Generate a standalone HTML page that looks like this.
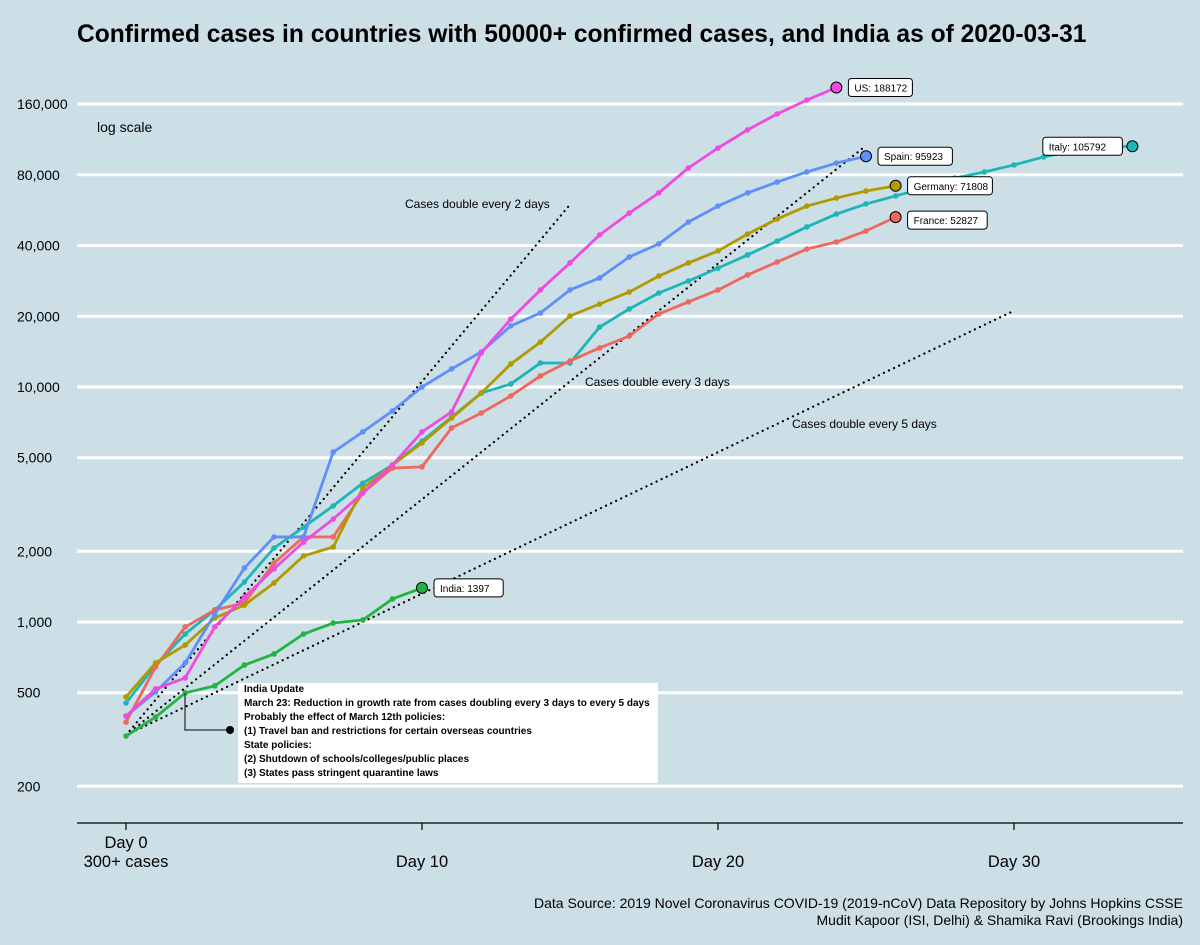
<!DOCTYPE html>
<html><head><meta charset="utf-8"><style>
body{margin:0;background:#cddfe6;}
svg{display:block;font-family:"Liberation Sans",Arial,sans-serif;}
</style></head><body>
<svg id="chart" width="1200" height="945" viewBox="0 0 1200 945">
<rect width="1200" height="945" fill="#cddfe6"/>
<text x="77" y="42" font-size="24.6" font-weight="bold" fill="#000">Confirmed cases in countries with 50000+ confirmed cases, and India as of 2020-03-31</text>
<text x="97" y="132" font-size="14" fill="#000">log scale</text>
<g id="grid"></g>
<g id="yticks"></g>
<g id="xaxis"></g>
<g id="refs"></g>
<g id="series"></g>
<g id="annot">
<polyline points="185,693 185,730 230,730" fill="none" stroke="#333" stroke-width="1.3"/>
<circle cx="230" cy="730" r="4" fill="#000"/>
<rect x="238" y="683" width="420" height="100" fill="#fff"/>
<g font-size="10" font-weight="bold" fill="#000">
<text x="244" y="692">India Update</text>
<text x="244" y="706">March 23: Reduction in growth rate from cases doubling every 3 days to every 5 days</text>
<text x="244" y="720">Probably the effect of March 12th policies:</text>
<text x="244" y="734">(1) Travel ban and restrictions for certain overseas countries</text>
<text x="244" y="748">State policies:</text>
<text x="244" y="762">(2) Shutdown of schools/colleges/public places</text>
<text x="244" y="776">(3) States pass stringent quarantine laws</text>
</g></g>
<text x="1183" y="908" font-size="14" text-anchor="end">Data Source: 2019 Novel Coronavirus COVID-19 (2019-nCoV) Data Repository by Johns Hopkins CSSE</text>
<text x="1183" y="925" font-size="14" text-anchor="end">Mudit Kapoor (ISI, Delhi) &amp; Shamika Ravi (Brookings India)</text>
</svg>
<script>
const yTicks=[200,500,1000,2000,5000,10000,20000,40000,80000,160000];
const xTicks=[0,10,20,30];
const countries=["US","Spain","Germany","Italy","France","India"];
const us=[398,519,578,953,1276,1683,2188,2742,3540,4656,6442,7834,13960,19450,25880,33730,44360,54950,67000,85500,104000,124200,145200,166300,188172];
const spain=[398,504,670,1081,1698,2301,2301,5284,6442,7907,10000,11940,14090,18200,20650,25880,29100,35730,40640,50350,58880,67000,74470,82220,89740,95923];
const germany=[480,670,798,1040,1180,1466,1910,2085,3715,4656,5780,7380,9420,12530,15530,20050,22550,25350,29650,33730,37930,44770,51880,58880,63680,68230,71808];
const italy=[452,656,889,1125,1479,2065,2535,3119,3899,4656,5888,7447,9420,10300,12650,12650,17990,21480,25120,28250,32060,36480,41780,47980,54450,60120,65010,70310,77450,82220,88100,95280,100900,104950,105792];
const france=[375,644,953,1125,1205,1782,2301,2301,3540,4519,4571,6699,7745,9162,11140,12910,14660,16480,20460,23010,25880,29990,34040,38640,41400,46130,52827];
const india=[327,394,499,535,656,731,889,990,1020,1253,1397];
const doublingDays=[2,3,5];
const doublingEnd=[15,25,30];
const doublingStart=330;

const NS="http://www.w3.org/2000/svg";
const X=d=>126+29.6*d;
const Y=v=>387-235*Math.log10(v/10000);
function mk(tag,attrs,parent){const e=document.createElementNS(NS,tag);for(const k in attrs)e.setAttribute(k,attrs[k]);parent.appendChild(e);return e;}
const grid=document.getElementById('grid'),yt=document.getElementById('yticks'),xa=document.getElementById('xaxis');
yTicks.forEach(v=>{
  const l=mk('line',{x1:77,x2:1183,y1:Y(v),y2:Y(v),stroke:'#fff','stroke-width':3},grid);
  
  
  const t=mk('text',{x:17,y:Y(v)+5,'font-size':14},yt);
  t.textContent=v.toLocaleString('en-US');
  
  
});
const ax=mk('line',{x1:77,x2:1183,y1:823,y2:823,stroke:'#000','stroke-width':1.2},xa);


xTicks.forEach(d=>{
  const tk=mk('line',{x1:X(d),x2:X(d),y1:823,y2:830,stroke:'#000','stroke-width':1.2},xa);
  
  
  if(d===0){
    const a=mk('text',{x:X(d),y:848,'font-size':16.5,'text-anchor':'middle'},xa);a.textContent='Day 0';
    
    
    const b=mk('text',{x:X(d),y:867,'font-size':16.5,'text-anchor':'middle'},xa);b.textContent='300+ cases';
    
    
  } else {
    const a=mk('text',{x:X(d),y:867,'font-size':16.5,'text-anchor':'middle'},xa);a.textContent='Day '+d;
    
    
  }
});
const refs=document.getElementById('refs');
const refLabelPos=[[405,208],[585,386],[792,428]];
doublingDays.forEach((p,i)=>{
  const e=doublingEnd[i];
  const l=mk('line',{x1:X(0),y1:Y(doublingStart),x2:X(e),y2:Y(doublingStart*Math.pow(2,e/p)),stroke:'#000','stroke-width':2.2,'stroke-dasharray':'0.1 5.5','stroke-linecap':'round'},refs);
  
  
  const t=mk('text',{x:refLabelPos[i][0],y:refLabelPos[i][1],'font-size':12},refs);
  t.textContent='Cases double every '+p+' days';
  
  
});
const sg=document.getElementById('series');
const all=[us,spain,germany,italy,france,india];
const colors=['#EE4CE0','#5F8FF8','#B09A00','#1DB5B8','#F0675E','#22B440'];
const order=[3,4,2,1,0,5];
order.forEach(i=>{
  const data=all[i],c=colors[i];
  const g=mk('g',{},sg);
  
  
  const pl=mk('polyline',{points:data.map((v,d)=>X(d)+','+Y(v)).join(' '),fill:'none',stroke:c,'stroke-width':2.8,'stroke-linejoin':'round'},g);
  
  
  data.forEach((v,d)=>{
    const last=d===data.length-1;
    const pt=mk('circle',{cx:X(d),cy:Y(v),r:last?5.5:2.8,fill:c,stroke:last?'#000':'none','stroke-width':1},g);
    
    
  });
});
const labelG=mk('g',{},sg);


const lblOff=[[12,0],[12,0],[12,0],[0,0],[12,3],[12,0]];
all.forEach((data,i)=>{
  const d=data.length-1,v=data[d];
  const txt=countries[i]+': '+v;
  const w=txt.length*5.2+12;
  let x=X(d)+lblOff[i][0],y=Y(v)+lblOff[i][1];
  if(i===3)x=X(d)-w-10;
  const r=mk('rect',{x:x,y:y-9,width:w,height:18,rx:3,fill:'#fff',stroke:'#000','stroke-width':1},labelG);
  
  
  const t=mk('text',{x:x+6,y:y+4,'font-size':10},labelG);
  t.textContent=txt;
  
  
});
</script>
</body></html>
